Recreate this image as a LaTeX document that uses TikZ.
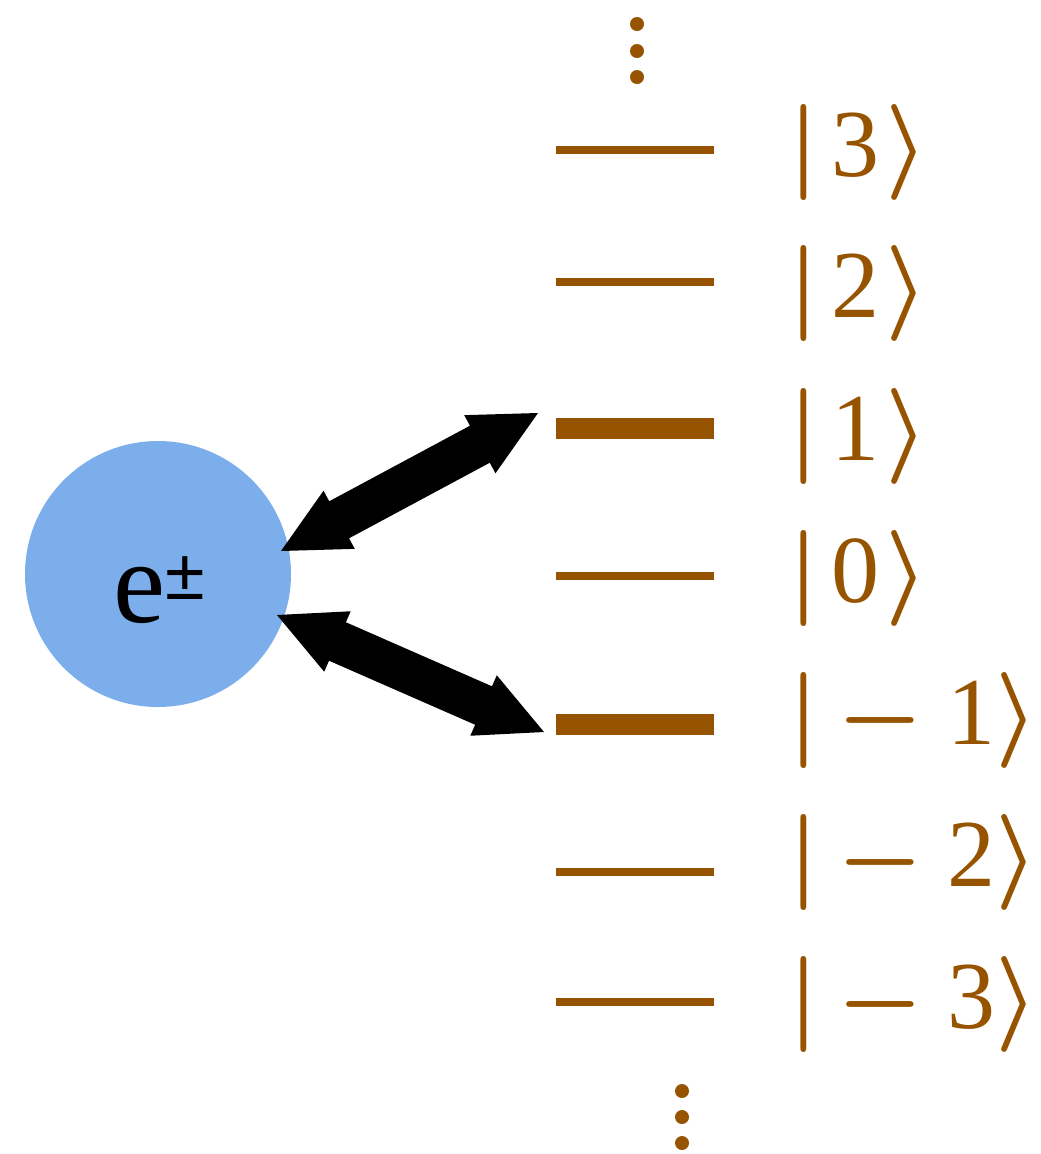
\RequirePackage{fix-cm}
\documentclass[tikz,border=0pt]{standalone}
\usepackage{fontspec}
\setmainfont{Liberation Serif}
\newfontfamily\pmfont{Liberation Sans}
\usetikzlibrary{calc}
\definecolor{levelbrown}{RGB}{151,84,0}
\definecolor{ionblue}{RGB}{125,174,236}
\tikzset{
  level/.style={draw=levelbrown, line width=6pt},
  thicklevel/.style={draw=levelbrown, line width=15.75pt},
  ket/.style={text=levelbrown, inner sep=0pt, anchor=base west, font=\fontsize{72}{80}\selectfont\boldmath},
  blockarrow/.style={fill=black},
  dotmark/.style={fill=levelbrown},
}
\newcommand\dblblock[3]{%
  \coordinate (#3a) at ($(#1)!49.5pt!(#2)$);
  \coordinate (#3b) at ($(#2)!49.5pt!(#1)$);
  \fill[blockarrow] (#1) -- ($(#3a)!24.75pt!90:(#2)$) -- ($(#3a)!15.75pt!90:(#2)$)
    -- ($(#3b)!15.75pt!-90:(#1)$) -- ($(#3b)!24.75pt!-90:(#1)$) -- (#2)
    -- ($(#3b)!24.75pt!90:(#1)$) -- ($(#3b)!15.75pt!90:(#1)$)
    -- ($(#3a)!15.75pt!-90:(#2)$) -- ($(#3a)!24.75pt!-90:(#2)$) -- cycle;}
\newcommand\posket[1]{$|\mkern2mu\mbox{#1}\mkern1mu\rangle$}
\newcommand\negket[1]{$|\mkern-1mu-\mbox{#1}\rangle$}
\begin{document}
\begin{tikzpicture}[x=0.75pt,y=-0.75pt]
\useasboundingbox (0,0) rectangle (1040,1154);
% ion
\node[circle, fill=ionblue, minimum size=199.5pt, inner sep=0pt] (ion) at (158,574) {};
\node[anchor=base west, inner sep=0pt, font=\fontsize{88}{90}\selectfont] (ionlbl) at (113,622)
  {e\raisebox{17.25pt}{\pmfont\fontsize{54}{54}\selectfont ±}};
% levels
\draw[level] (556,150) coordinate (l3w) -- (714,150) coordinate (l3e);
\draw[level] (556,282) coordinate (l2w) -- (714,282) coordinate (l2e);
\draw[thicklevel] (556,428) coordinate (l1w) -- (714,428) coordinate (l1e);
\draw[level] (556,576) coordinate (l0w) -- (714,576) coordinate (l0e);
\draw[thicklevel] (556,724) coordinate (lm1w) -- (714,724) coordinate (lm1e);
\draw[level] (556,872) coordinate (lm2w) -- (714,872) coordinate (lm2e);
\draw[level] (556,1002) coordinate (lm3w) -- (714,1002) coordinate (lm3e);
% labels
\node[ket] (k3) at (788,176) {\posket{3}};
\node[ket] (k2) at (788,317) {\posket{2}};
\node[ket] (k1) at (788,460) {\posket{1}};
\node[ket] (k0) at (788,602) {\posket{0}};
\node[ket] (km1) at (788,744) {\negket{1}};
\node[ket] (km2) at (788,886) {\negket{2}};
\node[ket] (km3) at (788,1028) {\negket{3}};
% dots
\foreach \yy in {24,51,77} \fill[dotmark] (637,\yy) circle (5.25pt);
\foreach \yy in {1091,1117,1143} \fill[dotmark] (682,\yy) circle (5.25pt);
% arrows
\coordinate (up1) at (281,551);
\coordinate (up2) at (538,413);
\coordinate (lo1) at (277,615);
\coordinate (lo2) at (544,732);
\dblblock{up1}{up2}{ua}
\dblblock{lo1}{lo2}{la}
\end{tikzpicture}
\end{document}
